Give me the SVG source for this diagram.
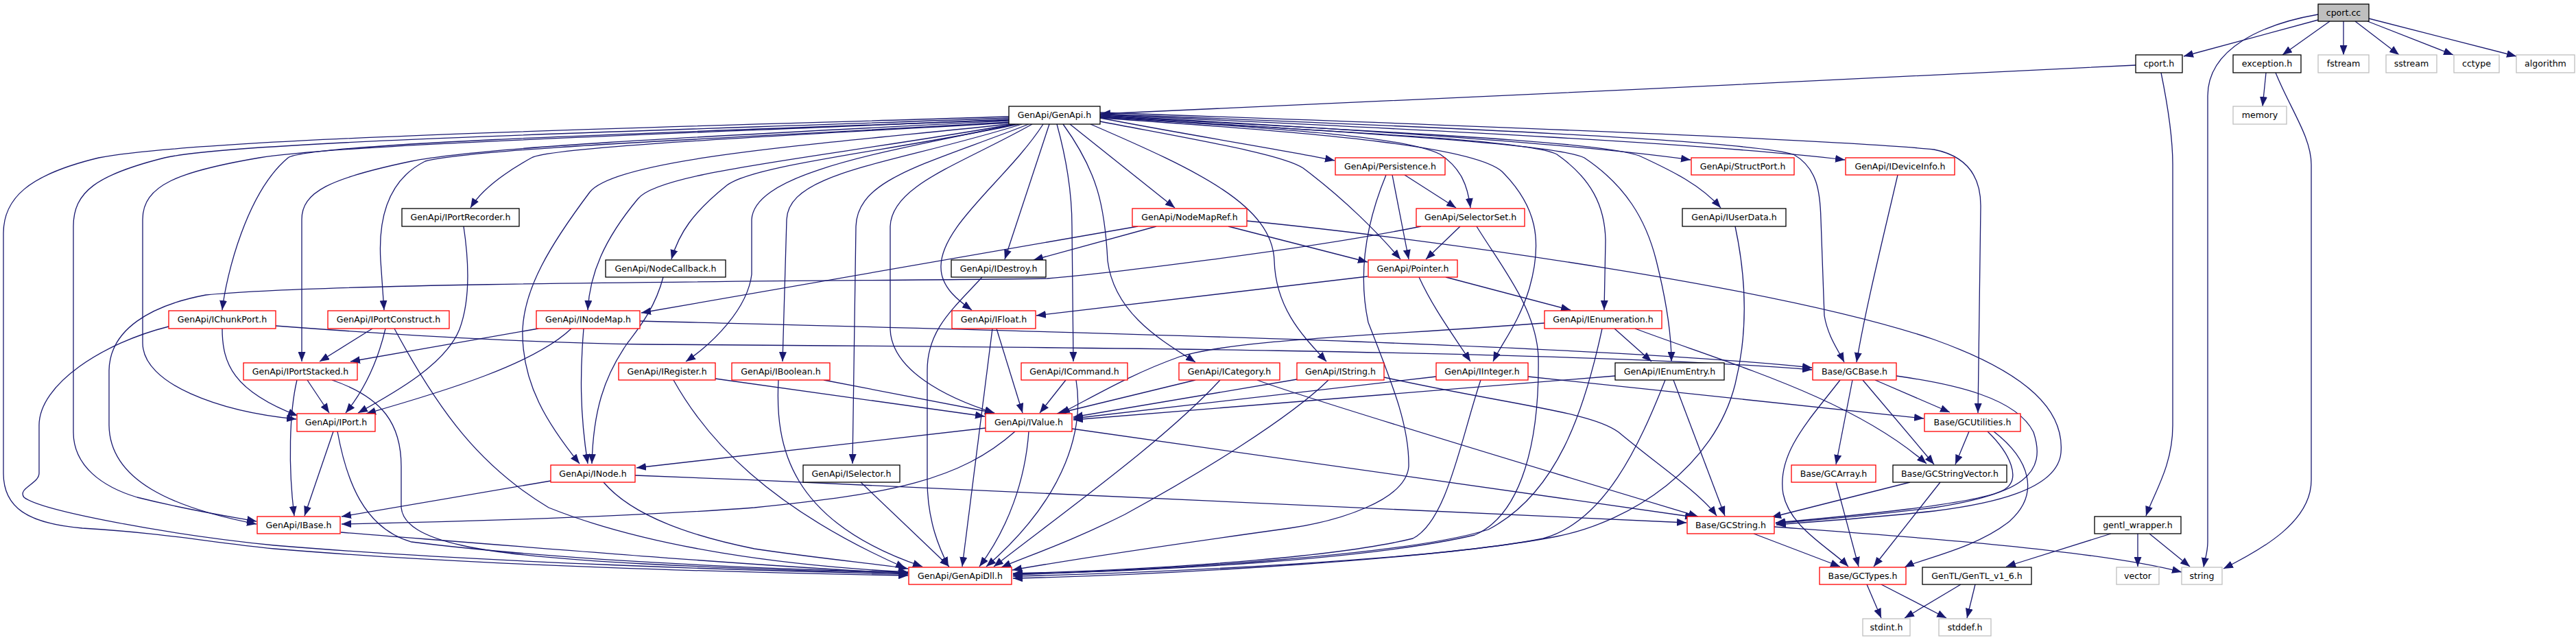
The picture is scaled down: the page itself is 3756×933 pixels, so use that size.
<svg xmlns="http://www.w3.org/2000/svg" width="3756" height="933" viewBox="0 0 3756 933">
<style>
.e{fill:none;stroke:#191970;stroke-width:1.3;marker-end:url(#a)}
.n rect{fill:#fff;stroke-width:1.3}
.red rect{stroke:#ff0000}
.blk rect{stroke:#000}
.gry rect{stroke:#bfbfbf}
.root rect{fill:#bfbfbf;stroke:#000}
.n text{font-family:"DejaVu Sans",Verdana,sans-serif;font-size:12.6px;text-anchor:middle;fill:#000}
</style>
<defs>
<marker id="a" markerUnits="userSpaceOnUse" markerWidth="15" markerHeight="11" refX="14" refY="5.5" orient="auto">
<path d="M0,0 L14,5.5 L0,11 z" fill="#191970"/>
</marker>
</defs>
<rect width="3756" height="933" fill="#fff"/>
<g id="connectors">
<path class="e" d="M3380,29 L3184,82"/>
<path class="e" d="M3397,31 L3328,80"/>
<path class="e" d="M3417,31 L3417,80"/>
<path class="e" d="M3434,31 L3498,80"/>
<path class="e" d="M3452,31 L3577,80"/>
<path class="e" d="M3454,27 L3669,82"/>
<path class="e" d="M3380,21 C3300,35 3219,70 3219,140 L3219,790 C3219,805 3215,815 3213,827"/>
<path class="e" d="M3304,106 L3299,155"/>
<path class="e" d="M3318,106 C3340,160 3370,200 3370,240 L3370,700 C3370,760 3300,800 3242,829"/>
<path class="e" d="M3114,95 C2700,115 2000,150 1605,166"/>
<path class="e" d="M3151,106 C3160,150 3168,200 3168,240 L3168,620 C3168,680 3140,720 3129,752"/>
<path class="e" d="M3078,778 L2925,826"/>
<path class="e" d="M3117,778 L3117,826"/>
<path class="e" d="M3134,778 L3193,826"/>
<path class="e" d="M2859,852 L2777,901"/>
<path class="e" d="M2880,852 L2868,901"/>
<path class="e" d="M2722,852 L2743,901"/>
<path class="e" d="M2743,852 L2838,901"/>
<path class="e" d="M2557,778 L2683,826"/>
<path class="e" d="M2587,768 C2750,780 3050,800 3181,834"/>
<path class="e" d="M2677,703 L2710,826"/>
<path class="e" d="M2785,703 L2583,754"/>
<path class="e" d="M2829,703 L2732,826"/>
<path class="e" d="M2683,554 C2640,610 2590,660 2600,720 C2610,770 2670,800 2695,826"/>
<path class="e" d="M2701,554 L2677,677"/>
<path class="e" d="M2716,554 L2820,677"/>
<path class="e" d="M2734,554 L2843,601"/>
<path class="e" d="M2765,548 C2850,560 2940,580 2965,630 C2985,690 2950,720 2820,740 C2700,755 2620,760 2589,763"/>
<path class="e" d="M2871,629 L2851,677"/>
<path class="e" d="M2898,629 C2930,660 2950,700 2920,715 C2880,735 2700,752 2589,762"/>
<path class="e" d="M2907,629 C2960,670 2975,720 2930,760 C2880,800 2800,815 2777,827"/>
<path class="e" d="M1818,322 C2100,350 2600,420 2820,495 C2960,545 3010,600 3005,660 C3000,715 2900,735 2820,745 C2700,758 2620,762 2590,765"/>
<path class="e" d="M926,693 C1500,715 2100,745 2459,762"/>
<path class="e" d="M1563,625 L2471,754"/>
<path class="e" d="M1833,554 C1900,580 2300,700 2476,753"/>
<path class="e" d="M2018,550 C2200,590 2320,600 2360,630 C2420,680 2480,720 2503,752"/>
<path class="e" d="M2440,554 L2515,752"/>
<path class="e" d="M2228,549 L2805,610"/>
<path class="e" d="M2384,479 C2520,530 2700,580 2809,676"/>
<path class="e" d="M2354,479 L2408,527"/>
<path class="e" d="M2336,479 C2310,600 2270,720 2170,772 C2050,810 1700,830 1477,838"/>
<path class="e" d="M2252,471 C2000,490 1800,495 1720,520 C1650,545 1600,575 1546,603"/>
<path class="e" d="M2355,548 L1565,612"/>
<path class="e" d="M2428,554 C2390,650 2340,760 2250,785 C2100,815 1700,835 1477,840"/>
<path class="e" d="M2530,330 C2545,400 2550,480 2530,560 C2500,680 2380,760 2270,782 C2100,815 1700,838 1477,843"/>
<path class="e" d="M2094,549 L1565,610"/>
<path class="e" d="M2159,554 C2130,640 2110,760 2060,785 C1950,812 1700,830 1477,836"/>
<path class="e" d="M1891,553 L1565,608"/>
<path class="e" d="M1937,554 C1880,610 1750,690 1640,750 C1560,790 1500,810 1460,827"/>
<path class="e" d="M1743,554 L1541,603"/>
<path class="e" d="M1779,554 C1700,640 1560,740 1449,826"/>
<path class="e" d="M1554,554 L1516,602"/>
<path class="e" d="M1569,554 C1580,620 1560,720 1438,826"/>
<path class="e" d="M1453,479 L1491,602"/>
<path class="e" d="M1447,479 L1403,826"/>
<path class="e" d="M1432,404 C1390,450 1352,480 1352,540 L1352,700 C1352,760 1370,800 1383,826"/>
<path class="e" d="M1500,629 C1495,700 1470,770 1428,826"/>
<path class="e" d="M1437,624 L928,682"/>
<path class="e" d="M1480,629 C1400,700 1300,720 1100,740 C900,755 600,762 498,764"/>
<path class="e" d="M1043,552 L1436,607"/>
<path class="e" d="M982,554 C1030,640 1120,740 1320,828"/>
<path class="e" d="M1201,554 L1450,602"/>
<path class="e" d="M1135,554 C1130,650 1150,760 1345,826"/>
<path class="e" d="M1255,703 L1384,826"/>
<path class="e" d="M1471,170 C1000,185 300,200 144,230 C40,255 5,290 5,340 L5,690 C5,740 40,763 120,770 C250,778 300,790 400,800 C700,825 1100,835 1324,839"/>
<path class="e" d="M1471,172 C1000,190 350,205 240,230 C140,255 107,280 107,330 L107,630 C107,680 150,710 200,725 C280,745 330,752 374,760"/>
<path class="e" d="M1471,174 C1000,195 500,210 378,230 C260,250 208,270 208,320 L208,500 C208,560 320,600 432,611"/>
<path class="e" d="M1471,175 C900,195 450,210 420,230 C360,280 330,400 324,452"/>
<path class="e" d="M1471,176 C1000,200 700,215 600,235 C480,260 440,280 440,320 L440,527"/>
<path class="e" d="M1471,178 C1100,200 700,215 620,235 C560,265 552,330 555,380 L560,452"/>
<path class="e" d="M1471,179 C1100,200 800,215 775,230 C730,255 700,280 686,303"/>
<path class="e" d="M1471,181 C1200,210 900,230 860,280 C800,360 765,420 762,480 C760,560 800,620 845,676"/>
<path class="e" d="M1478,181 C1200,230 960,250 930,290 C880,350 860,400 857,452"/>
<path class="e" d="M1485,181 C1300,220 1100,240 1060,270 C1010,310 990,340 979,378"/>
<path class="e" d="M1480,181 C1300,220 1100,250 1096,320 L1096,400 C1090,450 1040,500 1000,527"/>
<path class="e" d="M1490,181 C1300,240 1150,250 1147,320 L1141,527"/>
<path class="e" d="M1500,181 C1350,240 1250,260 1248,330 L1243,676"/>
<path class="e" d="M1505,181 C1400,240 1300,270 1298,330 L1298,480 C1300,540 1380,580 1450,602"/>
<path class="e" d="M1521,181 C1470,260 1370,330 1372,390 C1372,420 1400,440 1417,452"/>
<path class="e" d="M1530,181 L1465,378"/>
<path class="e" d="M1541,181 C1560,250 1563,300 1563,330 L1565,527"/>
<path class="e" d="M1550,181 C1600,250 1611,300 1615,380 C1625,460 1700,500 1743,528"/>
<path class="e" d="M1560,181 L1713,303"/>
<path class="e" d="M1590,181 C1750,250 1855,300 1858,380 C1860,450 1900,490 1934,527"/>
<path class="e" d="M1604,172 C1750,200 1880,220 1946,234"/>
<path class="e" d="M1604,177 C1750,205 1870,225 1900,245 C1960,290 2010,340 2042,378"/>
<path class="e" d="M1604,170 C1900,190 2050,200 2100,225 C2130,245 2140,270 2144,303"/>
<path class="e" d="M1604,172 C1950,195 2150,215 2190,250 C2240,300 2250,350 2230,420 C2215,470 2190,500 2177,527"/>
<path class="e" d="M1604,171 C2000,195 2230,205 2270,225 C2320,260 2340,300 2341,350 L2339,452"/>
<path class="e" d="M1604,170 C2000,195 2270,210 2310,230 C2370,270 2400,320 2415,380 C2430,440 2437,490 2437,527"/>
<path class="e" d="M1604,168 C2000,190 2300,210 2465,233"/>
<path class="e" d="M1604,169 C2000,192 2330,205 2390,227 C2440,250 2480,270 2509,303"/>
<path class="e" d="M1604,167 C2100,190 2500,210 2690,233"/>
<path class="e" d="M1604,166 C2100,185 2550,205 2615,225 C2650,245 2654,280 2655,320 L2660,460 C2665,490 2680,510 2689,528"/>
<path class="e" d="M1604,164 C2200,185 2700,205 2820,218 C2870,228 2888,260 2888,300 L2884,602"/>
<path class="e" d="M2030,255 L2054,378"/>
<path class="e" d="M2048,255 L2123,303"/>
<path class="e" d="M2021,255 C1990,330 1980,400 1995,470 C2030,560 2055,620 2054,680 C2050,730 1950,760 1880,770 C1700,795 1550,818 1476,831"/>
<path class="e" d="M2129,330 L2079,378"/>
<path class="e" d="M2072,330 C1900,365 1600,400 1527,406 C1300,410 500,410 300,430 C220,445 160,480 159,540 L159,620 C160,700 250,740 374,764"/>
<path class="e" d="M2153,330 C2190,390 2240,450 2243,520 C2245,640 2220,750 2150,780 C2000,815 1700,832 1477,837"/>
<path class="e" d="M1994,403 L1511,460"/>
<path class="e" d="M2108,404 L2290,452"/>
<path class="e" d="M2069,404 C2090,450 2120,490 2144,527"/>
<path class="e" d="M1659,330 L935,456"/>
<path class="e" d="M1686,330 L1507,379"/>
<path class="e" d="M1791,330 L1994,382"/>
<path class="e" d="M2767,255 C2745,350 2720,450 2707,528"/>
<path class="e" d="M967,404 C955,450 930,480 915,500 C880,550 865,600 863,676"/>
<path class="e" d="M676,330 C685,390 685,440 670,480 C650,530 580,570 522,602"/>
<path class="e" d="M324,479 C324,530 340,570 434,606"/>
<path class="e" d="M246,476 C150,500 57,560 57,620 L57,690 C57,705 25,712 35,725 C60,745 250,780 400,795 C700,820 1100,832 1324,837"/>
<path class="e" d="M402,475 C600,490 800,500 940,502 C1400,505 2300,510 2642,539"/>
<path class="e" d="M933,468 C1400,480 2300,500 2642,536"/>
<path class="e" d="M785,479 L511,527"/>
<path class="e" d="M833,479 C780,530 650,570 534,603"/>
<path class="e" d="M851,479 C846,540 845,600 857,676"/>
<path class="e" d="M543,479 L466,527"/>
<path class="e" d="M562,479 C550,530 530,570 504,602"/>
<path class="e" d="M575,479 C640,600 700,680 800,740 C950,800 1150,825 1324,834"/>
<path class="e" d="M433,554 C422,600 420,680 429,752"/>
<path class="e" d="M448,554 L480,602"/>
<path class="e" d="M484,554 C560,580 585,620 585,680 L585,740 C590,790 700,810 940,822 C1100,830 1250,834 1324,835"/>
<path class="e" d="M486,629 L444,752"/>
<path class="e" d="M492,629 C505,700 530,770 600,790 C800,815 1100,830 1324,834"/>
<path class="e" d="M803,701 L498,753"/>
<path class="e" d="M880,703 C920,750 1000,780 1100,800 C1200,815 1280,822 1324,829"/>
<path class="e" d="M497,776 C800,800 1100,825 1324,836"/>
</g>
<g id="n_cport_cc" class="n root"><rect x="3380" y="6" width="74" height="25"/><text x="3417" y="22.5">cport.cc</text></g>
<g id="n_cport_h" class="n blk"><rect x="3114" y="80" width="68" height="26"/><text x="3148" y="97">cport.h</text></g>
<g id="n_exception_h" class="n blk"><rect x="3256" y="80" width="99" height="26"/><text x="3305.5" y="97">exception.h</text></g>
<g id="n_fstream" class="n gry"><rect x="3380" y="80" width="74" height="26"/><text x="3417" y="97">fstream</text></g>
<g id="n_sstream" class="n gry"><rect x="3479" y="80" width="74" height="26"/><text x="3516" y="97">sstream</text></g>
<g id="n_cctype" class="n gry"><rect x="3578" y="80" width="66" height="26"/><text x="3611" y="97">cctype</text></g>
<g id="n_algorithm" class="n gry"><rect x="3669" y="80" width="85" height="26"/><text x="3711.5" y="97">algorithm</text></g>
<g id="n_memory" class="n gry"><rect x="3256" y="155" width="78" height="26"/><text x="3295" y="172">memory</text></g>
<g id="n_genapi" class="n blk"><rect x="1471" y="155" width="133" height="26"/><text x="1537.5" y="172">GenApi/GenApi.h</text></g>
<g id="n_persistence" class="n red"><rect x="1947" y="230" width="160" height="25"/><text x="2027" y="246.5">GenApi/Persistence.h</text></g>
<g id="n_structport" class="n red"><rect x="2466" y="230" width="150" height="25"/><text x="2541" y="246.5">GenApi/StructPort.h</text></g>
<g id="n_ideviceinfo" class="n red"><rect x="2691" y="230" width="159" height="25"/><text x="2770.5" y="246.5">GenApi/IDeviceInfo.h</text></g>
<g id="n_iportrecorder" class="n blk"><rect x="586" y="304" width="171" height="26"/><text x="671.5" y="321">GenApi/IPortRecorder.h</text></g>
<g id="n_nodemapref" class="n red"><rect x="1651" y="304" width="167" height="26"/><text x="1734.5" y="321">GenApi/NodeMapRef.h</text></g>
<g id="n_selectorset" class="n red"><rect x="2065" y="304" width="158" height="26"/><text x="2144" y="321">GenApi/SelectorSet.h</text></g>
<g id="n_iuserdata" class="n blk"><rect x="2453" y="304" width="151" height="26"/><text x="2528.5" y="321">GenApi/IUserData.h</text></g>
<g id="n_nodecallback" class="n blk"><rect x="883" y="379" width="175" height="25"/><text x="970.5" y="395.5">GenApi/NodeCallback.h</text></g>
<g id="n_idestroy" class="n blk"><rect x="1387" y="379" width="138" height="25"/><text x="1456" y="395.5">GenApi/IDestroy.h</text></g>
<g id="n_pointer" class="n red"><rect x="1995" y="379" width="130" height="25"/><text x="2060" y="395.5">GenApi/Pointer.h</text></g>
<g id="n_ichunkport" class="n red"><rect x="246" y="453" width="156" height="26"/><text x="324" y="470">GenApi/IChunkPort.h</text></g>
<g id="n_iportconstruct" class="n red"><rect x="478" y="453" width="177" height="26"/><text x="566.5" y="470">GenApi/IPortConstruct.h</text></g>
<g id="n_inodemap" class="n red"><rect x="782" y="453" width="151" height="26"/><text x="857.5" y="470">GenApi/INodeMap.h</text></g>
<g id="n_ifloat" class="n red"><rect x="1388" y="453" width="122" height="26"/><text x="1449" y="470">GenApi/IFloat.h</text></g>
<g id="n_ienumeration" class="n red"><rect x="2252" y="453" width="171" height="26"/><text x="2337.5" y="470">GenApi/IEnumeration.h</text></g>
<g id="n_iportstacked" class="n red"><rect x="355" y="529" width="166" height="25"/><text x="438" y="545.5">GenApi/IPortStacked.h</text></g>
<g id="n_iregister" class="n red"><rect x="902" y="529" width="141" height="25"/><text x="972.5" y="545.5">GenApi/IRegister.h</text></g>
<g id="n_iboolean" class="n red"><rect x="1067" y="529" width="143" height="25"/><text x="1138.5" y="545.5">GenApi/IBoolean.h</text></g>
<g id="n_icommand" class="n red"><rect x="1489" y="529" width="155" height="25"/><text x="1566.5" y="545.5">GenApi/ICommand.h</text></g>
<g id="n_icategory" class="n red"><rect x="1719" y="529" width="147" height="25"/><text x="1792.5" y="545.5">GenApi/ICategory.h</text></g>
<g id="n_istring" class="n red"><rect x="1891" y="529" width="127" height="25"/><text x="1954.5" y="545.5">GenApi/IString.h</text></g>
<g id="n_iinteger" class="n red"><rect x="2094" y="529" width="134" height="25"/><text x="2161" y="545.5">GenApi/IInteger.h</text></g>
<g id="n_ienumentry" class="n blk"><rect x="2355" y="529" width="159" height="25"/><text x="2434.5" y="545.5">GenApi/IEnumEntry.h</text></g>
<g id="n_gcbase" class="n red"><rect x="2643" y="529" width="122" height="25"/><text x="2704" y="545.5">Base/GCBase.h</text></g>
<g id="n_iport" class="n red"><rect x="433" y="603" width="114" height="26"/><text x="490" y="620">GenApi/IPort.h</text></g>
<g id="n_ivalue" class="n red"><rect x="1437" y="603" width="126" height="26"/><text x="1500" y="620">GenApi/IValue.h</text></g>
<g id="n_gcutilities" class="n red"><rect x="2806" y="603" width="140" height="26"/><text x="2876" y="620">Base/GCUtilities.h</text></g>
<g id="n_inode" class="n red"><rect x="803" y="678" width="123" height="25"/><text x="864.5" y="694.5">GenApi/INode.h</text></g>
<g id="n_iselector" class="n blk"><rect x="1171" y="678" width="141" height="25"/><text x="1241.5" y="694.5">GenApi/ISelector.h</text></g>
<g id="n_gcarray" class="n red"><rect x="2612" y="678" width="123" height="25"/><text x="2673.5" y="694.5">Base/GCArray.h</text></g>
<g id="n_gcstringvector" class="n blk"><rect x="2760" y="678" width="166" height="25"/><text x="2843" y="694.5">Base/GCStringVector.h</text></g>
<g id="n_ibase" class="n red"><rect x="375" y="753" width="121" height="25"/><text x="435.5" y="769.5">GenApi/IBase.h</text></g>
<g id="n_gcstring" class="n red"><rect x="2460" y="753" width="127" height="25"/><text x="2523.5" y="769.5">Base/GCString.h</text></g>
<g id="n_gentl_wrapper" class="n blk"><rect x="3054" y="753" width="126" height="25"/><text x="3117" y="769.5">gentl_wrapper.h</text></g>
<g id="n_genapidll" class="n red"><rect x="1325" y="827" width="150" height="25"/><text x="1400" y="843.5">GenApi/GenApiDll.h</text></g>
<g id="n_gctypes" class="n red"><rect x="2653" y="827" width="126" height="25"/><text x="2716" y="843.5">Base/GCTypes.h</text></g>
<g id="n_gentl" class="n blk"><rect x="2803" y="827" width="159" height="25"/><text x="2882.5" y="843.5">GenTL/GenTL_v1_6.h</text></g>
<g id="n_vector" class="n gry"><rect x="3086" y="827" width="62" height="25"/><text x="3117" y="843.5">vector</text></g>
<g id="n_string" class="n gry"><rect x="3181" y="827" width="59" height="25"/><text x="3210.5" y="843.5">string</text></g>
<g id="n_stdint" class="n gry"><rect x="2716" y="902" width="69" height="25"/><text x="2750.5" y="918.5">stdint.h</text></g>
<g id="n_stddef" class="n gry"><rect x="2827" y="902" width="76" height="25"/><text x="2865" y="918.5">stddef.h</text></g>
</svg>
